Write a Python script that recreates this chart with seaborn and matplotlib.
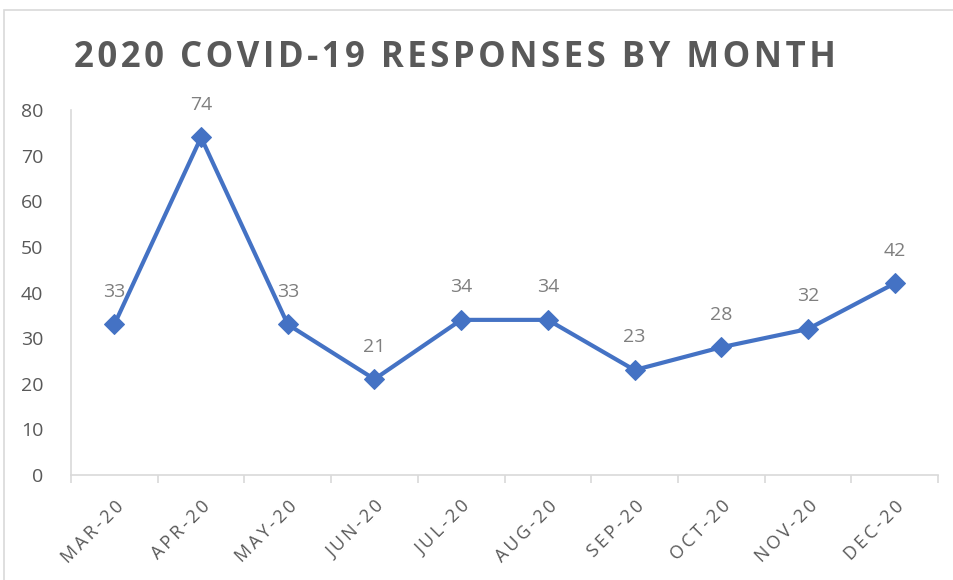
import numpy as np
import pandas as pd
import matplotlib.pyplot as plt
import seaborn as sns
from matplotlib.patches import Rectangle

months = ['MAR-20', 'APR-20', 'MAY-20', 'JUN-20', 'JUL-20',
          'AUG-20', 'SEP-20', 'OCT-20', 'NOV-20', 'DEC-20']
responses = [33, 74, 33, 21, 34, 34, 23, 28, 32, 42]
y_ticks = [0, 10, 20, 30, 40, 50, 60, 70, 80]
title = '2020 COVID-19 RESPONSES BY MONTH'

df = pd.DataFrame({'month': months, 'responses': responses})

sns.set_style('white')
plt.rcParams['font.family'] = ['Open Sans', 'DejaVu Sans']


def spaced(s, gap='\u2009'):
    # letter spacing like the Excel chart
    return gap.join(s)


fig = plt.figure(figsize=(9.54, 5.8), dpi=100)
ax = fig.add_axes([71 / 954, 1 - 475 / 580, (938 - 71) / 954, (475 - 110) / 580])

# chart-area frame
fig.patches.append(Rectangle((4 / 954, -0.1), 1.2, 1 - 10 / 580 + 0.1,
                             transform=fig.transFigure, fill=False,
                             edgecolor='#d9d9d9', linewidth=1.2, zorder=0))

x = np.arange(len(months))
sns.lineplot(x=x, y=df['responses'], ax=ax, color='#4472C4', linewidth=3,
             marker='D', markersize=10, markeredgecolor='#4472C4')

for xi, v in zip(x, responses):
    ax.annotate(str(v), (xi, v), xytext=(0, 17), textcoords='offset points',
                ha='center', va='bottom', fontsize=14, color='#7f7f7f')

ax.set_xlim(-0.5, len(months) - 0.5)
ax.set_ylim(0, 80)
ax.set_yticks(y_ticks)
ax.set_xticks(x)
ax.set_xticklabels([spaced(m) for m in months], rotation=45, ha='right',
                   rotation_mode='anchor', fontsize=13, color='#595959')
ax.set_xticks(np.arange(-0.5, len(months)), minor=True)
ax.tick_params(axis='x', which='major', length=0, pad=16)
ax.tick_params(axis='x', which='minor', length=6, color='#d9d9d9', width=1.2, bottom=True)
ax.tick_params(axis='y', length=0, labelsize=14, labelcolor='#595959', pad=20)
ax.set_xlabel('')
ax.set_ylabel('')

for s in ['top', 'right']:
    ax.spines[s].set_visible(False)
for s in ['left', 'bottom']:
    ax.spines[s].set_color('#d9d9d9')
    ax.spines[s].set_linewidth(1.2)

fig.text(455 / 954, 1 - 58 / 580, spaced(title, '\u200a'),
         ha='center', va='center', fontsize=25, fontweight='bold', color='#595959')

fig.savefig('out.png', dpi=100)
